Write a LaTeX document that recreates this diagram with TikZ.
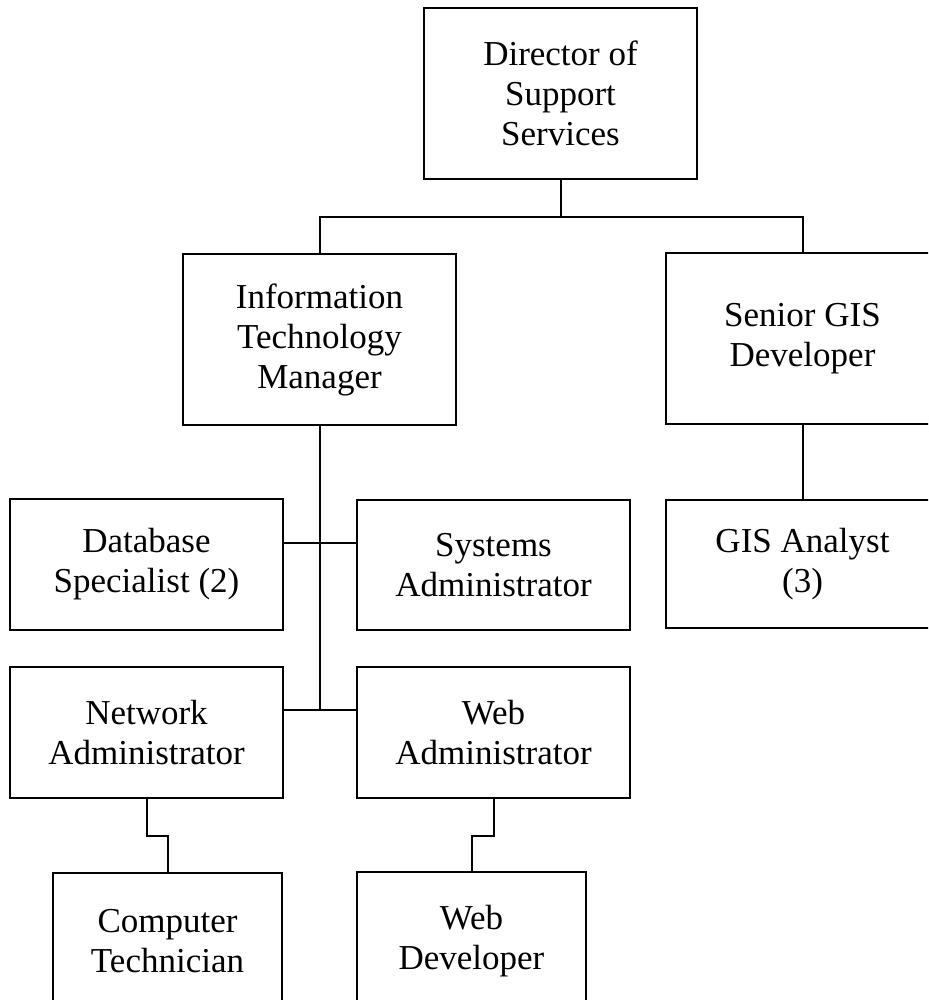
\documentclass[tikz,border=0pt]{standalone}
\usepackage{fontspec}
\setmainfont{Liberation Serif}
\begin{document}
\begin{tikzpicture}[x=1pt,y=-1pt,
  orgbox/.style={draw=black,line width=2pt,inner sep=0pt,align=center,
    minimum width=273pt,font=\fontsize{35}{40}\selectfont},
  smallbox/.style={orgbox,minimum width=229pt},
  link/.style={draw=black,line width=2pt}]
\useasboundingbox (0,0) rectangle (928,1000);
\clip (0,0) rectangle (928,1000);
\node[orgbox,minimum height=171pt] (dir) at (560.5,93.5) {Director of\\Support\\Services};
\node[orgbox,minimum height=171pt] (itm) at (319.5,339.5) {Information\\Technology\\Manager};
\node[orgbox,minimum height=171pt] (gis) at (802.5,338.5) {Senior GIS\\Developer};
\node[orgbox,minimum height=131pt] (db) at (146.5,564.5) {Database\\Specialist (2)};
\node[orgbox,minimum height=130pt] (sys) at (493.5,565) {Systems\\Administrator};
\node[orgbox,minimum height=128pt] (gisa) at (802.5,564) {GIS Analyst\\(3)};
\node[orgbox,minimum height=131pt] (net) at (146.5,732.5) {Network\\Administrator};
\node[orgbox,minimum height=131pt] (wad) at (493.5,732.5) {Web\\Administrator};
\node[smallbox,minimum height=137pt] (comp) at (167.5,941.5) {Computer\\Technician};
\node[smallbox,minimum height=138pt] (wdev) at (471.5,941) {Web\\Developer};
\coordinate (jTop) at (560.5,217);
\coordinate (jMid) at (319.5,543);
\coordinate (jBot) at (319.5,710);
\draw[link] (dir.south) -- (jTop);
\draw[link] (itm.north) |- (jTop) -| (gis.north);
\draw[link] (itm.south) -- (jBot);
\draw[link] (db.east |- jMid) -- (sys.west |- jMid);
\draw[link] (net.east |- jBot) -- (wad.west |- jBot);
\draw[link] (gis.south) -- (gisa.north);
\draw[link] (net.south) -- ++(0,37) -| (comp.north);
\draw[link] (wad.south) -- ++(0,37) -| (wdev.north);
\end{tikzpicture}
\end{document}
